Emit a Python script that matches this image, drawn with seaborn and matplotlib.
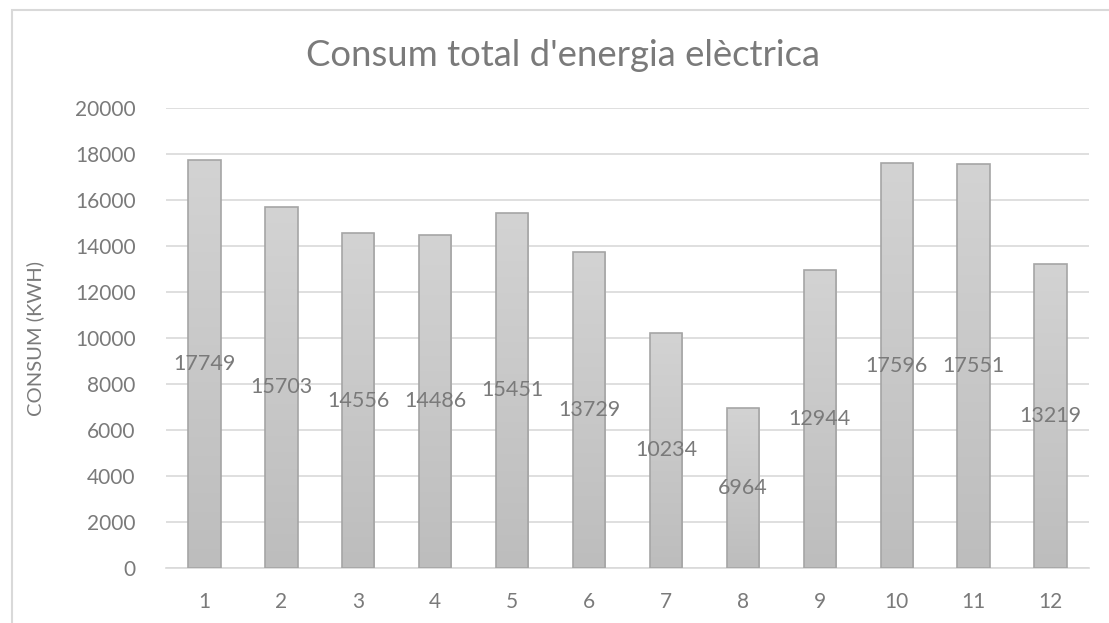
import numpy as np
import pandas as pd
import matplotlib
matplotlib.use("Agg")
import matplotlib.pyplot as plt
import seaborn as sns
from matplotlib.patches import Rectangle

months = [1, 2, 3, 4, 5, 6, 7, 8, 9, 10, 11, 12]
consum = [17749, 15703, 14556, 14486, 15451, 13729, 10234, 6964, 12944, 17596, 17551, 13219]
yticks = [0, 2000, 4000, 6000, 8000, 10000, 12000, 14000, 16000, 18000, 20000]

sns.set_theme(style="white")
plt.rcParams["font.family"] = ["Lato", "DejaVu Sans"]

text_col = "#7a7a7a"
df = pd.DataFrame({"mes": [str(m) for m in months], "consum": consum})

fig = plt.figure(figsize=(11.09, 6.23), dpi=100)
ax = fig.add_axes([166 / 1109, 1 - 568 / 623, 923 / 1109, 460 / 623])

sns.barplot(data=df, x="mes", y="consum", ax=ax, color="#c8c8c8",
            width=0.42, edgecolor="#a5a5a5", linewidth=1.2, zorder=3)

# vertical gradient fill inside each bar
grad = np.linspace(0, 1, 256).reshape(-1, 1)
cmap = matplotlib.colors.LinearSegmentedColormap.from_list("g", ["#bdbdbd", "#d3d3d3"])
for p in ax.patches:
    x0, y0 = p.get_x(), p.get_y()
    w, h = p.get_width(), p.get_height()
    im = ax.imshow(grad, extent=[x0, x0 + w, y0, y0 + h], origin="lower",
                   cmap=cmap, aspect="auto", zorder=3.5)
    im.set_clip_path(p)
    p.set_facecolor("none")
    p.set_zorder(4)

# value labels centred inside the bars
for i, v in enumerate(consum):
    ax.text(i, v / 2, f"{v}", ha="center", va="center", fontsize=15.5,
            color=text_col, zorder=5)

ax.set_xlim(-0.5, 11.5)
ax.set_ylim(0, 20000)
ax.set_yticks(yticks)
ax.set_yticklabels([str(t) for t in yticks])
ax.yaxis.grid(True, color="#d9d9d9", linewidth=1.2, zorder=0)
ax.set_axisbelow(True)
for s in ["top", "right", "left"]:
    ax.spines[s].set_visible(False)
ax.spines["bottom"].set_color("#d9d9d9")
ax.spines["bottom"].set_linewidth(1.2)
ax.tick_params(axis="both", length=0, labelsize=15, colors=text_col)
ax.tick_params(axis="y", pad=22)
ax.tick_params(axis="x", pad=17)
ax.set_xlabel("")
ax.set_ylabel("CONSUM (KWH)", fontsize=14.5, color=text_col, labelpad=22)

fig.text(563 / 1109, 1 - 55 / 623, "Consum total d'energia elèctrica",
         ha="center", va="center", fontsize=26.3, color=text_col)

# chart frame
fig.patches.append(Rectangle((12 / 1109, -0.1), 1.2, 1 - 10 / 623 + 0.1,
                             transform=fig.transFigure, fill=False,
                             edgecolor="#d9d9d9", linewidth=1.5))

fig.savefig("out.png", dpi=100, facecolor="white")
